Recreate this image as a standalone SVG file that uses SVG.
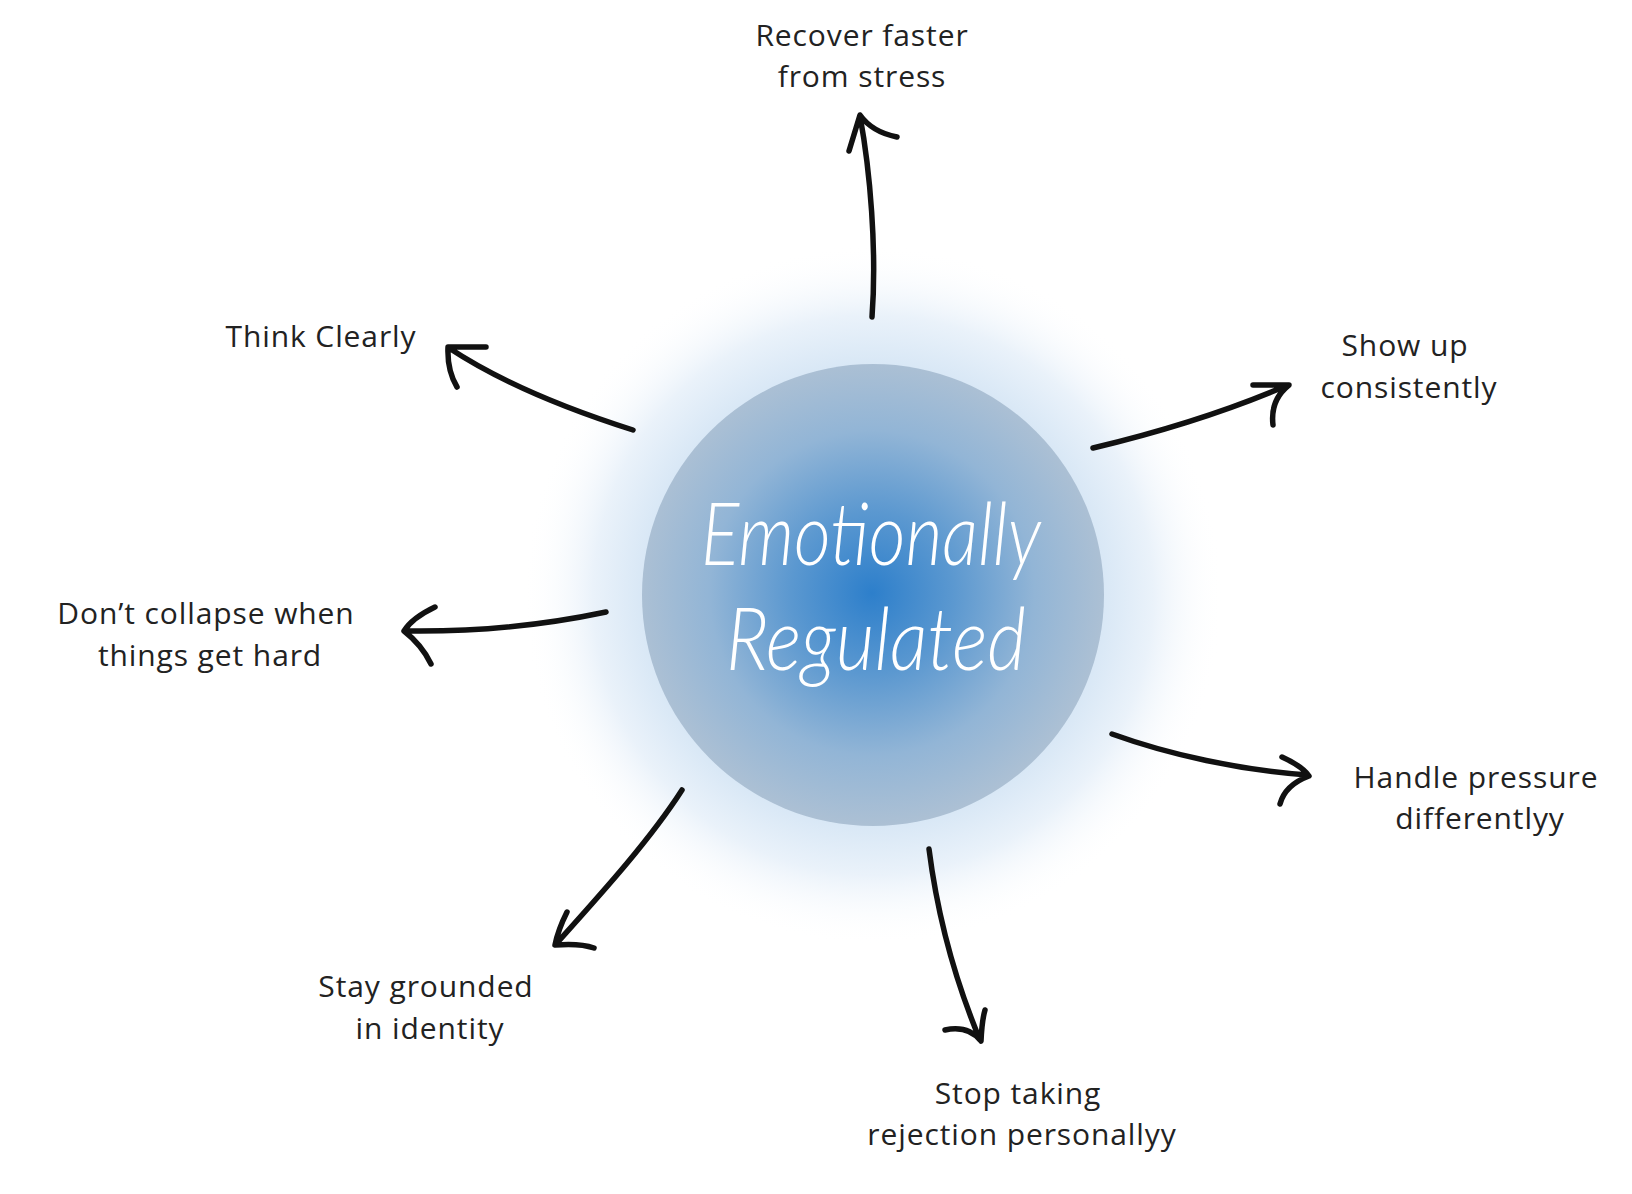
<svg xmlns="http://www.w3.org/2000/svg" width="1632" height="1194" viewBox="0 0 1632 1194">
<defs>
<radialGradient id="halo" cx="873" cy="595" r="350" gradientUnits="userSpaceOnUse">
<stop offset="0" stop-color="#c9ddf0"/>
<stop offset="0.64" stop-color="#d6e6f5"/>
<stop offset="0.8" stop-color="#eaf2fa"/>
<stop offset="1" stop-color="#ffffff" stop-opacity="0"/>
</radialGradient>
<radialGradient id="ball" cx="872" cy="593" r="232" gradientUnits="userSpaceOnUse">
<stop offset="0" stop-color="#2d7fcb"/>
<stop offset="0.35" stop-color="#5b98d0"/>
<stop offset="0.7" stop-color="#92b5d6"/>
<stop offset="1" stop-color="#acc0d4"/>
</radialGradient>
<style>
.lbl{font-family:"Open Sans","Noto Sans",sans-serif;font-size:30px;letter-spacing:0.9px;fill:#222;text-anchor:middle}
.arr{fill:none;stroke:#111;stroke-width:5.5;stroke-linecap:round;stroke-linejoin:round}
.script{font-family:Lato,"DejaVu Sans",sans-serif;font-style:italic;font-weight:300;fill:#fff;text-anchor:middle}
</style>
</defs>
<rect width="1632" height="1194" fill="#ffffff"/>
<g id="center">
<circle cx="873" cy="595" r="350" fill="url(#halo)"/>
<circle cx="873" cy="595" r="231" fill="url(#ball)"/>
<text class="script" x="871" y="565" font-size="86" textLength="340" lengthAdjust="spacingAndGlyphs">Emotionally</text>
<text class="script" x="876" y="670" font-size="86" textLength="300" lengthAdjust="spacingAndGlyphs">Regulated</text>
</g>
<g id="connectors">
<path class="arr" d="M872,317 C877,250 870,170 860,116 M849,151 L860,115 Q872,132 897,137"/>
<path class="arr" d="M633,430 C570,410 505,385 449,348 M486,347 L448,347 Q447,370 457,387"/>
<path class="arr" d="M1093,448 C1160,432 1230,410 1288,385 M1253,385 L1289,385 Q1270,400 1273,425"/>
<path class="arr" d="M606,612 C540,626 470,632 405,631 M435,607 Q412,618 404,631 Q422,645 431,664"/>
<path class="arr" d="M1112,734 C1170,755 1240,770 1308,775 M1282,757 Q1302,766 1309,776 Q1285,785 1280,804"/>
<path class="arr" d="M682,790 C650,840 600,895 556,944 M567,912 Q558,930 555,945 Q580,943 594,948"/>
<path class="arr" d="M929,849 C938,920 955,980 980,1040 M945,1030 Q968,1025 981,1041 Q982,1020 985,1010"/>
</g>
<g id="n-recover"><text class="lbl" x="862" y="46">Recover faster</text><text class="lbl" x="862" y="87">from stress</text></g>
<g id="n-think"><text class="lbl" x="321" y="347">Think Clearly</text></g>
<g id="n-show"><text class="lbl" x="1405" y="356">Show up</text><text class="lbl" x="1409" y="398">consistently</text></g>
<g id="n-collapse"><text class="lbl" x="206" y="624">Don’t collapse when</text><text class="lbl" x="210" y="666">things get hard</text></g>
<g id="n-handle"><text class="lbl" x="1476" y="788">Handle pressure</text><text class="lbl" x="1480" y="829">differentlyy</text></g>
<g id="n-stay"><text class="lbl" x="426" y="997">Stay grounded</text><text class="lbl" x="430" y="1039">in identity</text></g>
<g id="n-stop"><text class="lbl" x="1018" y="1104">Stop taking</text><text class="lbl" x="1022" y="1145">rejection personallyy</text></g>
</svg>
